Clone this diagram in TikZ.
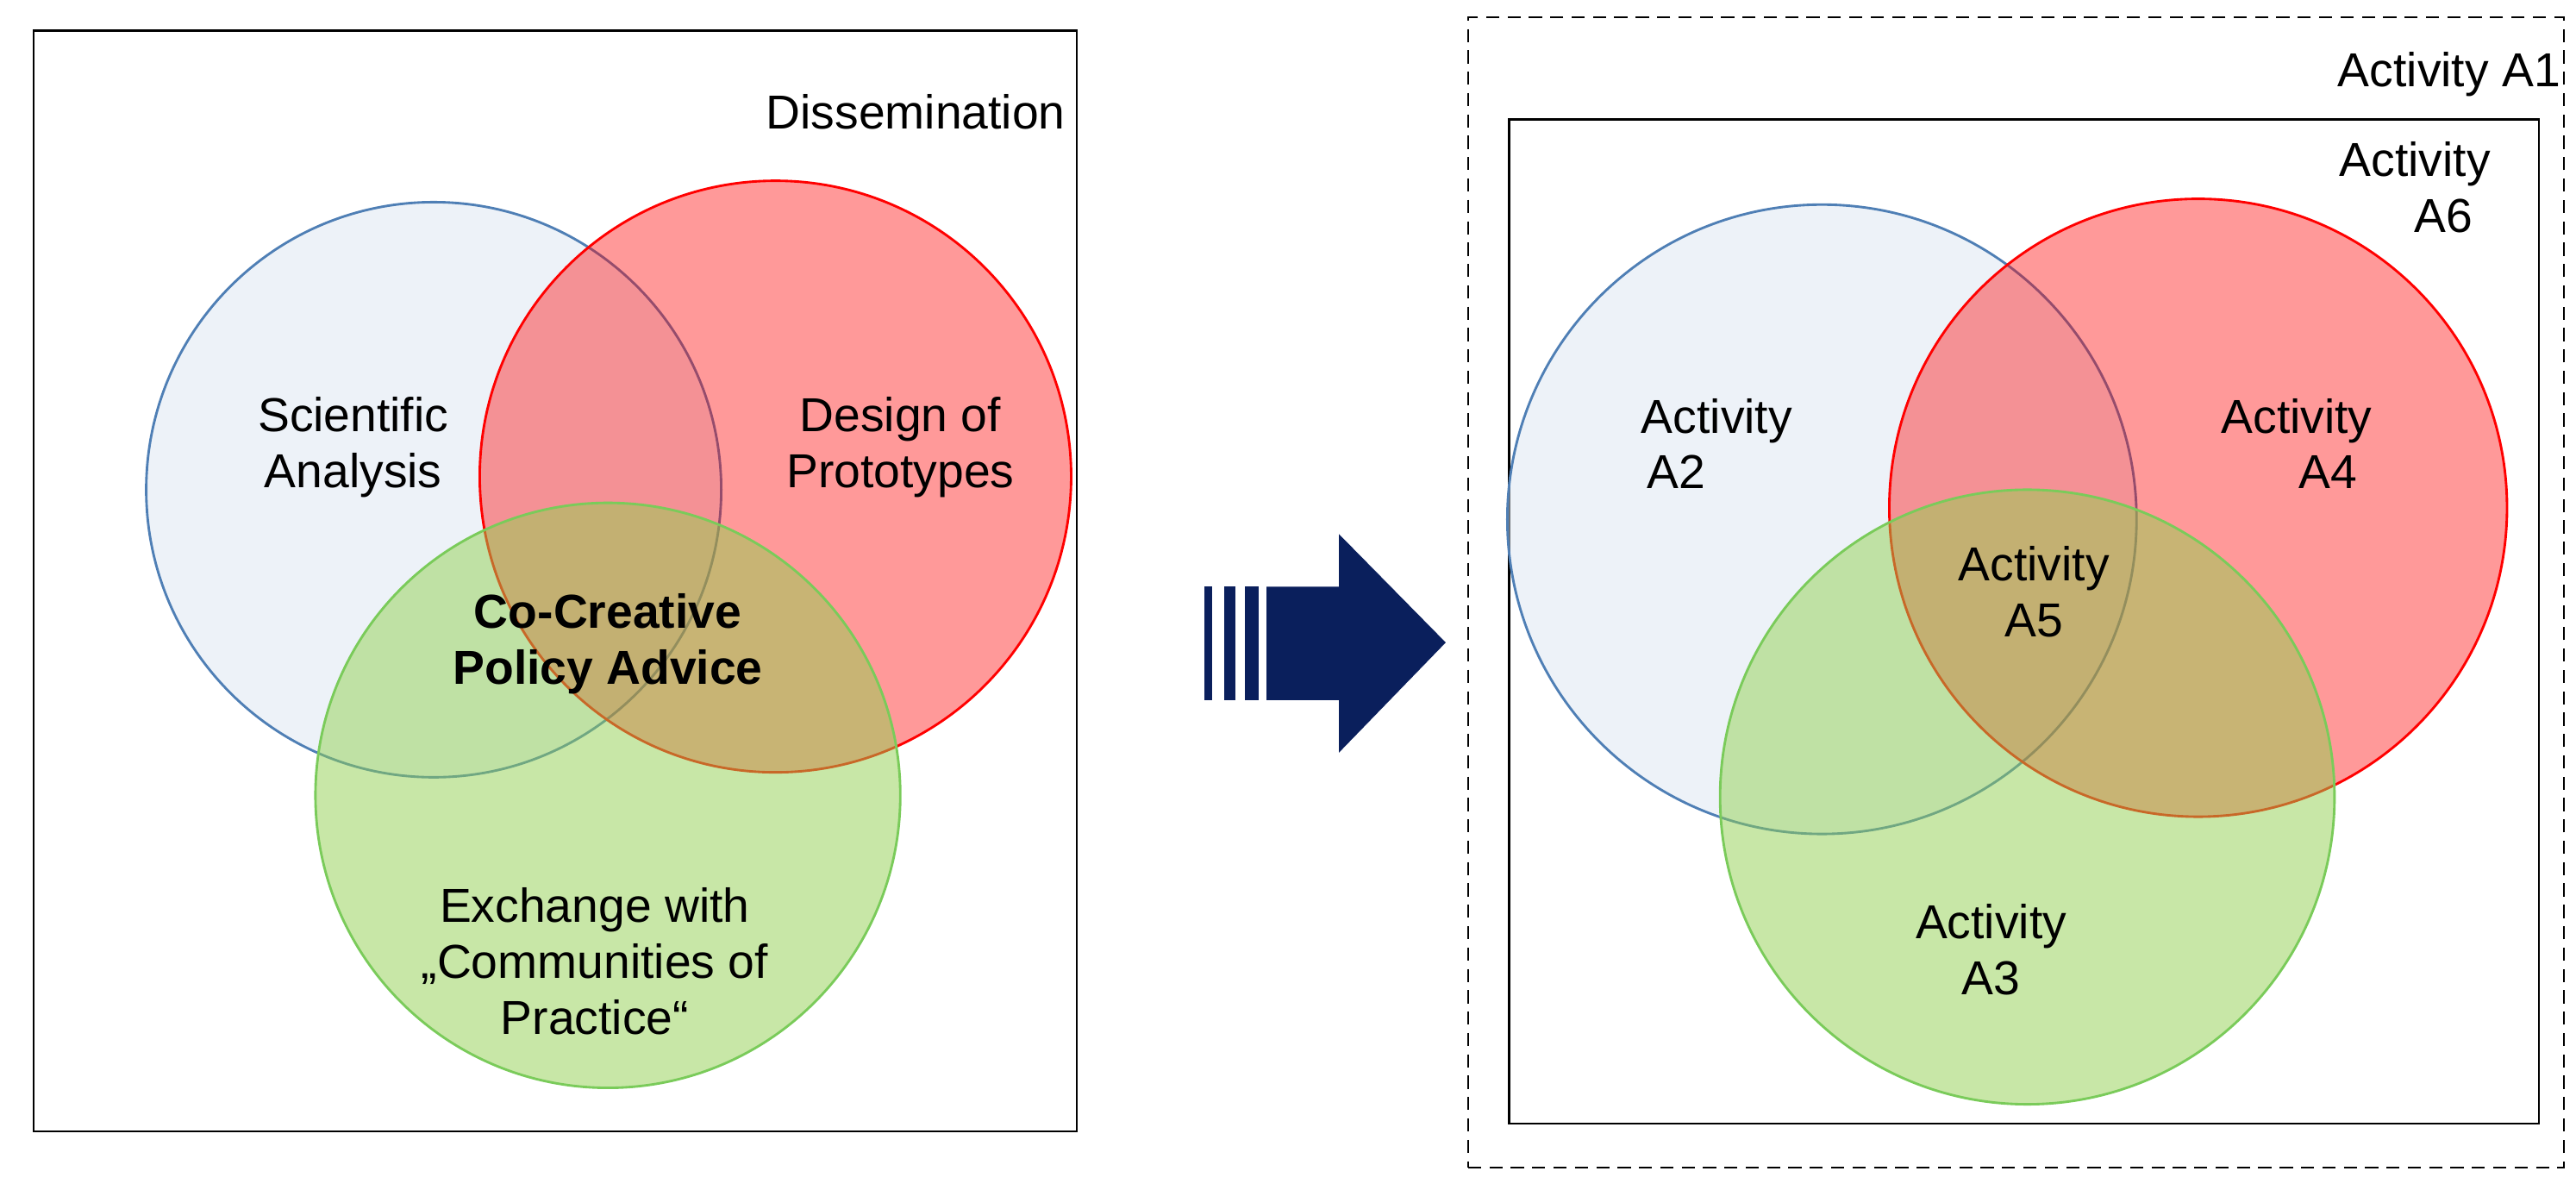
\documentclass[tikz,border=0pt]{standalone}
\usepackage{fontspec}
\setmainfont{Liberation Sans}
\definecolor{bfill}{HTML}{DCE6F2}
\definecolor{bline}{HTML}{4F7FB5}
\definecolor{gfill}{HTML}{92D050}
\definecolor{gline}{HTML}{7ACB5A}
\definecolor{navy}{HTML}{0A1F5C}
\begin{document}
\begin{tikzpicture}[x=1pt,y=-1pt,
 lbl/.style={font=\fontsize{29}{34}\selectfont,align=center},
 bc/.style={draw=bline,line width=1.5pt,fill=bfill,fill opacity=.5},
 rc/.style={draw=red,line width=1.5pt,fill=red,fill opacity=.4},
 gc/.style={draw=gline,line width=1.5pt,fill=gfill,fill opacity=.5},
 arr/.style={fill=navy}]
\useasboundingbox (0,0) rectangle (1568,724);
% left
\node[draw,line width=1.2pt,minimum width=635,minimum height=670,anchor=north west] (L) at (20,18) {};
\node[lbl,anchor=east] (dis) at (652,68) {Dissemination};
\node[bc,circle,minimum size=350] (b1) at (264,298) {};
\node[rc,circle,minimum size=360] (r1) at (472,290) {};
\node[gc,circle,minimum size=356] (g1) at (370,484) {};
\node[lbl] (t1) at (215,272) {Scientific\\Analysis};
\node[lbl] (t2) at (548,272) {Design of\\Prototypes};
\node[lbl,font=\fontsize{29}{34}\selectfont\bfseries] (t3) at (370,392) {Co-Creative\\Policy Advice};
\node[lbl] (t4) at (362,585) {Exchange with\\„Communities of\\Practice“};
% arrow
\fill[arr] (733,357) rectangle (738,426);
\fill[arr] (745,357) rectangle (752,426);
\fill[arr] (758,357) rectangle (766,426);
\fill[arr] (771,357) -- (815,357) -- (815,325) -- (880,391) -- (815,458) -- (815,426) -- (771,426) -- cycle;
% right
\node[draw,dash pattern=on 8pt off 5pt,line width=1.2pt,minimum width=667,minimum height=700,anchor=north west] (D) at (893,10) {};
\node[draw,line width=1.2pt,minimum width=627,minimum height=611,anchor=north west] (S) at (918,72) {};
\node[lbl,anchor=east] (a1) at (1562,45) {Activity A1};
\node[lbl] (a6) at (1470,114) {Activity\\\hspace*{1.2em}A6};
\node[bc,circle,minimum size=383] (b2) at (1109,316) {};
\node[rc,circle,minimum size=376] (r2) at (1338,309) {};
\node[gc,circle,minimum size=374] (g2) at (1234,485) {};
\node[lbl] (a2) at (1045,270) {Activity\\A2\hspace*{1.7em}};
\node[lbl] (a4) at (1398,270) {Activity\\\hspace*{1.3em}A4};
\node[lbl] (a5) at (1238,360) {Activity\\A5};
\node[lbl] (a3) at (1212,578) {Activity\\A3};
\end{tikzpicture}
\end{document}
